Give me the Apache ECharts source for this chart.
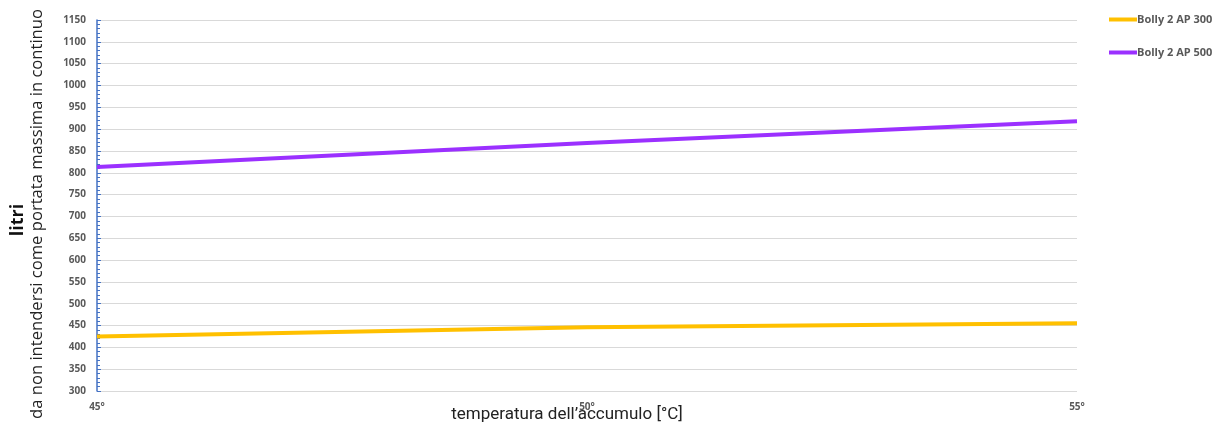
<!DOCTYPE html>
<html>
<head>
<meta charset="utf-8">
<script src="https://cdn.jsdelivr.net/npm/echarts@6/dist/echarts.min.js"></script>
<style>
html,body{margin:0;padding:0;background:#fff;}
#chart{width:1222px;height:423px;}
</style>
</head>
<body>
<div id="chart"></div>
<script>
const categories = ['45°', '50°', '55°'];
const seriesNames = ['Bolly 2 AP 300', 'Bolly 2 AP 500'];
const ap300 = [425, 446, 455];
const ap500 = [813, 868, 918];
const yMin = 300, yMax = 1150, yStep = 50;
const xTitle = 'temperatura dell\u2019accumulo [°C]';
const yTitle1 = 'litri';
const yTitle2 = 'da non intendersi come portata massima in continuo';

const chart = echarts.init(document.getElementById('chart'));
const labelFont = '"Open Sans", "Liberation Sans", sans-serif';
chart.setOption({
  animation: false,
  backgroundColor: '#fff',
  grid: { left: 97, right: 145, top: 20, bottom: 32, containLabel: false, outerBoundsMode: 'none' },
  legend: {
    orient: 'vertical',
    left: 1104,
    top: 9,
    itemWidth: 28,
    itemHeight: 4,
    itemGap: 22,
    icon: 'rect',
    data: seriesNames,
    textStyle: { fontFamily: labelFont, fontWeight: 'bold', fontSize: 11, color: '#595959', padding: [0,0,0,-5] }
  },
  xAxis: {
    type: 'category',
    data: categories,
    boundaryGap: false,
    axisLine: { show: false },
    axisTick: { show: false },
    splitLine: { show: false },
    axisLabel: { fontFamily: labelFont, fontWeight: 'bold', fontSize: 10, color: '#595959', margin: 11 }
  },
  yAxis: {
    type: 'value',
    min: yMin,
    max: yMax,
    interval: yStep,
    axisLine: { show: true, lineStyle: { color: '#4472C4', width: 1.5 } },
    axisTick: { show: true, inside: true, length: 4, lineStyle: { color: '#4472C4' } },
    minorTick: { show: true, splitNumber: 5, length: 3, lineStyle: { color: '#4472C4' } },
    splitLine: { show: true, lineStyle: { color: '#d9d9d9', width: 1 } },
    axisLabel: { fontFamily: labelFont, fontWeight: 'bold', fontSize: 10, color: '#595959', margin: 11,
      formatter: function (v) { return String(v); } }
  },
  graphic: [
    {
      type: 'text', x: 9, y: 220, rotation: Math.PI / 2,
      style: { text: yTitle1, fontFamily: labelFont, fontWeight: 'bold', fontSize: 18, fill: '#111', align: 'center', verticalAlign: 'top' }
    },
    {
      type: 'text', x: 29, y: 214, rotation: Math.PI / 2,
      style: { text: yTitle2, fontFamily: labelFont, fontSize: 16.6, fill: '#222', align: 'center', verticalAlign: 'top' }
    },
    {
      type: 'text', x: 567, y: 415,
      style: { text: xTitle, fontFamily: '"Liberation Sans Narrow", "Roboto", sans-serif', fontSize: 17, fill: '#222', align: 'center', verticalAlign: 'middle' }
    }
  ],
  series: [
    { name: seriesNames[0], type: 'line', data: ap300, showSymbol: false, symbol: 'none',
      lineStyle: { color: '#FFC000', width: 4 }, itemStyle: { color: '#FFC000' } },
    { name: seriesNames[1], type: 'line', data: ap500, showSymbol: false, symbol: 'none',
      lineStyle: { color: '#9B30FF', width: 4 }, itemStyle: { color: '#9B30FF' } }
  ]
});
</script>
</body>
</html>
